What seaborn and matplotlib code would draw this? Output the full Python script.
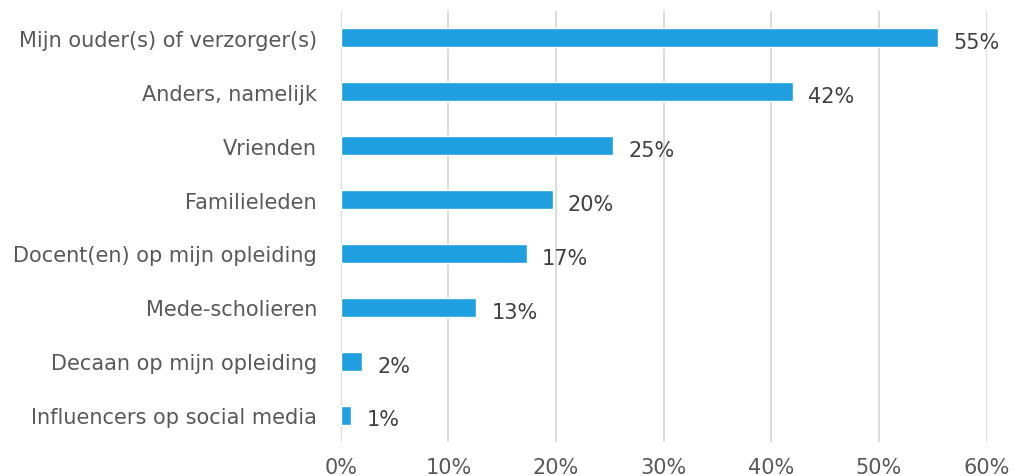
import matplotlib
matplotlib.use("Agg")
import matplotlib.pyplot as plt
import seaborn as sns
import pandas as pd
from matplotlib.ticker import PercentFormatter

## Data
categories = ['Mijn ouder(s) of verzorger(s)', 'Anders, namelijk', 'Vrienden', 'Familieleden',
              'Docent(en) op mijn opleiding', 'Mede-scholieren', 'Decaan op mijn opleiding',
              'Influencers op social media']
values = [55.5, 42.0, 25.3, 19.7, 17.3, 12.6, 2.0, 1.0]
value_labels = ['55%', '42%', '25%', '20%', '17%', '13%', '2%', '1%']

df = pd.DataFrame({'categorie': categories, 'waarde': values})

sns.set_style('white')
plt.rcParams['font.family'] = ['DejaVu Sans']

fig = plt.figure(figsize=(10.14, 4.77), dpi=100)
ax = fig.add_axes([0.336, 0.071, 0.637, 0.904])

sns.barplot(data=df, x='waarde', y='categorie', color='#1F9FDF', width=0.35,
            saturation=1, ax=ax, zorder=3)

for i, (v, lab) in enumerate(zip(values, value_labels)):
    ax.text(v + 1.4, i + 0.08, lab, va='center', ha='left', fontsize=15, color='#404040')

ax.set_xlim(0, 60)
ax.set_ylim(7.5, -0.5)
ax.set_xticks(range(0, 61, 10))
ax.xaxis.set_major_formatter(PercentFormatter(decimals=0))
ax.grid(axis='x', color='#D9D9D9', linewidth=1.3, zorder=0)
ax.grid(axis='y', visible=False)
for s in ax.spines.values():
    s.set_visible(False)
ax.tick_params(axis='x', length=0, pad=11, labelsize=15, labelcolor='#595959')
ax.tick_params(axis='y', length=0, pad=17, labelsize=15, labelcolor='#595959')
ax.set_xlabel('')
ax.set_ylabel('')

fig.savefig('out.png', dpi=100)
